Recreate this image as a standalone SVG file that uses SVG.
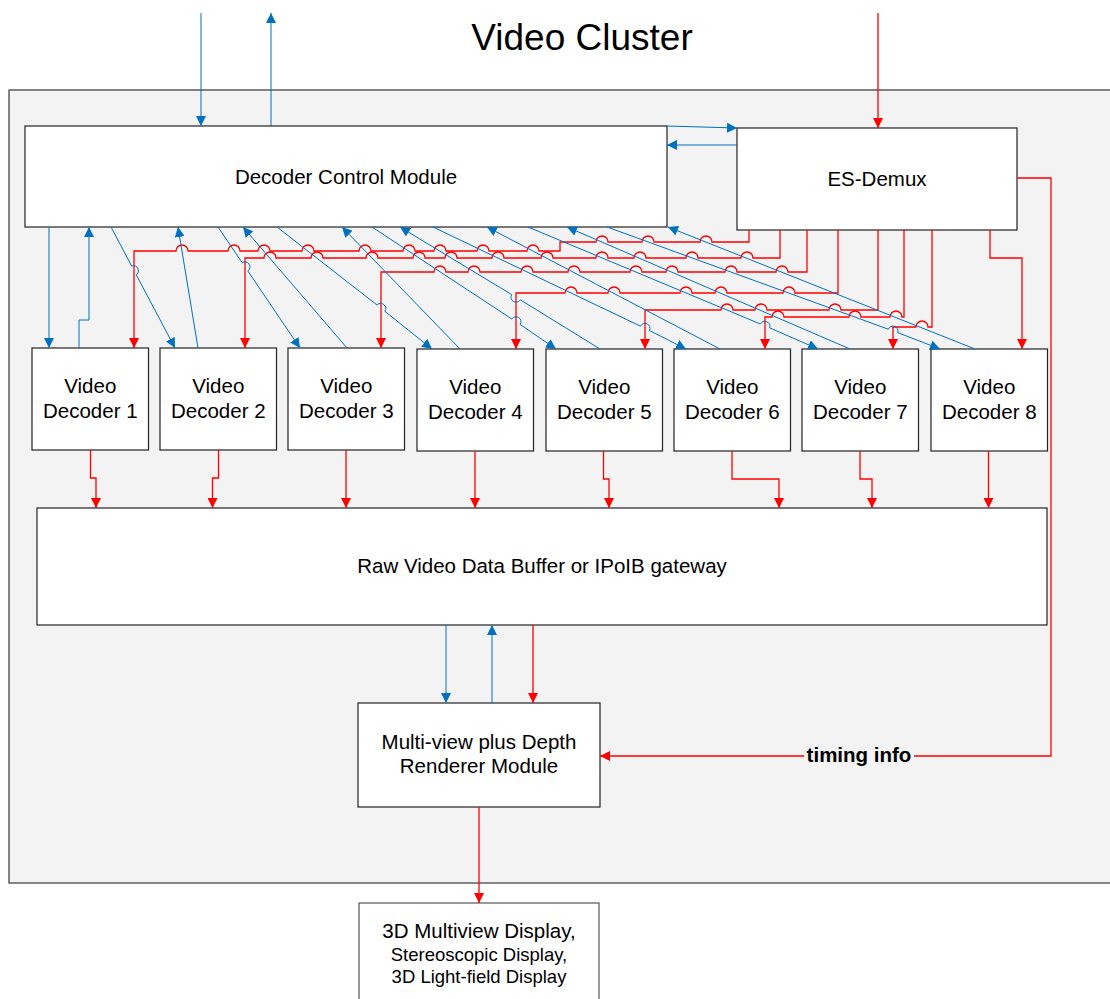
<svg xmlns="http://www.w3.org/2000/svg" width="1110" height="999" viewBox="0 0 1110 999">
<defs>
<style>
.box{fill:#fff;stroke:#222;stroke-width:1.2}
.lbl{font-family:"Liberation Sans",Arial,sans-serif;font-size:20.5px;text-anchor:middle;fill:#000}
.r{stroke:#ff0000;fill:none;stroke-width:1.3}
.b{stroke:#0070c0;fill:none;stroke-width:1}
.ra{marker-end:url(#ar)}
.ba{marker-end:url(#ab)}
</style>
<marker id="ar" markerUnits="userSpaceOnUse" markerWidth="10" markerHeight="10" viewBox="0 0 10 10" refX="10" refY="5" orient="auto"><path d="M0,0 L10,5 L0,10 z" fill="#ff0000"/></marker>
<marker id="ab" markerUnits="userSpaceOnUse" markerWidth="10" markerHeight="10" viewBox="0 0 10 10" refX="10" refY="5" orient="auto"><path d="M0,0 L10,5 L0,10 z" fill="#0070c0"/></marker>
</defs>
<rect width="1110" height="999" fill="#fff"/>
<g id="cluster">
<rect x="9" y="90" width="1110" height="793" fill="#f3f3f3" stroke="#111" stroke-width="1"/>
<line x1="9" y1="90" x2="1110" y2="90" stroke="#808080" stroke-width="1.5"/>
</g>
<g id="title"><text x="582" y="50" class="lbl" style="font-size:37px">Video Cluster</text></g>
<g id="dcm"><rect class="box" x="25" y="126" width="642" height="101"/><text class="lbl" x="346" y="184">Decoder Control Module</text></g>
<g id="esdemux"><rect class="box" x="737" y="128" width="280" height="102"/><text class="lbl" x="877" y="186">ES-Demux</text></g>
<g id="dec1"><rect class="box" x="32" y="348" width="116.5" height="102"/><text class="lbl" x="90.3" y="393">Video</text><text class="lbl" x="90.3" y="418">Decoder 1</text></g>
<g id="dec2"><rect class="box" x="160" y="348" width="116.5" height="102"/><text class="lbl" x="218.3" y="393">Video</text><text class="lbl" x="218.3" y="418">Decoder 2</text></g>
<g id="dec3"><rect class="box" x="288" y="348" width="116.5" height="102"/><text class="lbl" x="346.3" y="393">Video</text><text class="lbl" x="346.3" y="418">Decoder 3</text></g>
<g id="dec4"><rect class="box" x="417" y="349" width="116.5" height="102"/><text class="lbl" x="475.3" y="394">Video</text><text class="lbl" x="475.3" y="419">Decoder 4</text></g>
<g id="dec5"><rect class="box" x="546" y="349" width="116.5" height="102"/><text class="lbl" x="604.3" y="394">Video</text><text class="lbl" x="604.3" y="419">Decoder 5</text></g>
<g id="dec6"><rect class="box" x="674" y="349" width="116.5" height="102"/><text class="lbl" x="732.3" y="394">Video</text><text class="lbl" x="732.3" y="419">Decoder 6</text></g>
<g id="dec7"><rect class="box" x="802" y="349" width="116.5" height="102"/><text class="lbl" x="860.3" y="394">Video</text><text class="lbl" x="860.3" y="419">Decoder 7</text></g>
<g id="dec8"><rect class="box" x="931" y="349" width="116.5" height="102"/><text class="lbl" x="989.3" y="394">Video</text><text class="lbl" x="989.3" y="419">Decoder 8</text></g>
<g id="buffer"><rect class="box" x="37" y="508" width="1010" height="117"/><text class="lbl" x="542" y="573">Raw Video Data Buffer or IPoIB gateway</text></g>
<g id="renderer"><rect class="box" x="358" y="703" width="242" height="104"/><text class="lbl" x="479" y="749">Multi-view plus Depth</text><text class="lbl" x="479" y="773">Renderer Module</text></g>
<g id="display"><rect class="box" x="359" y="903" width="240" height="110" style="stroke:#555"/><text class="lbl" x="479" y="938">3D Multiview Display,</text><text class="lbl" x="479" y="961" style="font-size:18.5px">Stereoscopic Display,</text><text class="lbl" x="479" y="983" style="font-size:18.5px">3D Light-field Display</text></g>
<g id="connectors">
<path class="b ba" d="M201,13 V126"/>
<path class="b ba" d="M271,126 V13"/>
<path class="r ra" d="M878,13 V128"/>
<path class="b ba" d="M667,126 L737,128"/>
<path class="b ba" d="M737,145 H667"/>
<path class="r ra" d="M749,230 V242 H712 A6 6 0 0 0 700,242 H654 A6 6 0 0 0 642,242 H608 A6 6 0 0 0 596,242 H560 V251 H539 A6 6 0 0 0 527,251 H489 A6 6 0 0 0 477,251 H446 A6 6 0 0 0 434,251 H415 A6 6 0 0 0 403,251 H371 A6 6 0 0 0 359,251 H314 A6 6 0 0 0 302,251 H270 A6 6 0 0 0 258,251 H240 A6 6 0 0 0 228,251 H188 A6 6 0 0 0 176,251 H134 V348"/>
<path class="r ra" d="M780,230 V258 H753 A6 6 0 0 0 741,258 H698 A6 6 0 0 0 686,258 H646 A6 6 0 0 0 634,258 H608 A6 6 0 0 0 596,258 H553 A6 6 0 0 0 541,258 H504 A6 6 0 0 0 492,258 H457 A6 6 0 0 0 445,258 H425 A6 6 0 0 0 413,258 H378 A6 6 0 0 0 366,258 H323 A6 6 0 0 0 311,258 H276 A6 6 0 0 0 264,258 H245 V348"/>
<path class="r ra" d="M807,230 V272 H788 A6 6 0 0 0 776,272 H737 A6 6 0 0 0 725,272 H678 A6 6 0 0 0 666,272 H642 A6 6 0 0 0 630,272 H580 A6 6 0 0 0 568,272 H533 A6 6 0 0 0 521,272 H480 A6 6 0 0 0 468,272 H446 A6 6 0 0 0 434,272 H381 V348"/>
<path class="r ra" d="M838,230 V293 H795 A6 6 0 0 0 783,293 H727 A6 6 0 0 0 715,293 H692 A6 6 0 0 0 680,293 H620 A6 6 0 0 0 608,293 H577 A6 6 0 0 0 565,293 H516 V349"/>
<path class="r ra" d="M878,230 V310 H841 A6 6 0 0 0 829,310 H767 A6 6 0 0 0 755,310 H733 A6 6 0 0 0 721,310 H645 V349"/>
<path class="r ra" d="M904,230 V317 H902 A6 6 0 0 0 890,317 H861 A6 6 0 0 0 849,317 H784 A6 6 0 0 0 772,317 H765 V349"/>
<path class="r ra" d="M932,230 V327 H928 A6 6 0 0 0 916,327 H893 V349"/>
<path class="r ra" d="M990,230 V258 H1022 V349"/>
<path class="b ba" d="M49,227 V348"/>
<path class="b ba" d="M111,227 L131.7,266.1 A5 5 0 0 1 136.3,274.9 L175,348"/>
<path class="b ba" d="M218,227 L242.2,262.7 A5 5 0 0 1 247.8,271 L300,348"/>
<path class="b ba" d="M277,227 L377.1,305.1 A5 5 0 0 1 384.9,311.3 L432,349"/>
<path class="b ba" d="M372,227 L511.8,319 A5 5 0 0 1 520.2,324.5 L556,349"/>
<path class="b ba" d="M433,227 L640.5,326.2 A5 5 0 0 1 649.5,330.6 L686,349"/>
<path class="b ba" d="M528,227 L760.4,324 A5 5 0 0 1 769.6,327.8 L818,349"/>
<path class="b ba" d="M607,227 L888.3,329.2 A5 5 0 0 1 897.7,332.6 L940,349"/>
<path class="b ba" d="M79,348 V320 H89 V227"/>
<path class="b ba" d="M198,348 L178,227"/>
<path class="b ba" d="M347,348 L243,227"/>
<path class="b ba" d="M460,349 L342,227"/>
<path class="b ba" d="M600,349 L520.3,299.8 A5 5 0 0 1 511.7,294.6 L400,227"/>
<path class="b ba" d="M720,349 L487,227"/>
<path class="b ba" d="M850,349 L567,227"/>
<path class="b ba" d="M975,349 L668,227"/>
<path class="r ra" d="M90.5,450 V478 H96 V508"/>
<path class="r ra" d="M218.5,450 V478 H212.5 V508"/>
<path class="r ra" d="M346,450 V508"/>
<path class="r ra" d="M475,451 V508"/>
<path class="r ra" d="M603.5,451 V479 H609 V508"/>
<path class="r ra" d="M732,451 V479 H779 V508"/>
<path class="r ra" d="M860,451 V479 H872 V508"/>
<path class="r ra" d="M988.5,451 V508"/>
<path class="b ba" d="M446,625 V703"/>
<path class="b ba" d="M492,703 V625"/>
<path class="r ra" d="M533,625 V703"/>
<path class="r ra" d="M479,807 V903"/>
<path class="r ra" d="M1017,178 H1051 V756 H600"/>
<rect x="804" y="745" width="110" height="21" fill="#f3f3f3"/>
<text class="lbl" x="859" y="762" style="font-weight:bold">timing info</text>
</g>
</svg>
